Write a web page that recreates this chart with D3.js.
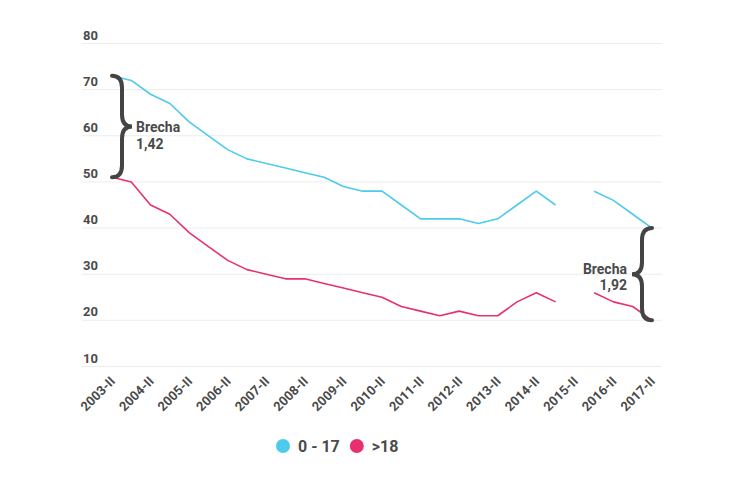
<!DOCTYPE html>
<html>
<head>
<meta charset="utf-8">
<script src="https://cdn.jsdelivr.net/npm/d3@7"></script>
<style>
  html, body { margin: 0; padding: 0; background: #fff; }
  svg { display: block; font-family: Roboto, "Noto Sans", sans-serif; }
</style>
</head>
<body>
<svg id="chart" width="750" height="481"></svg>
<script>
// ---- Data ----
const periods = ["2003-II","2004-I","2004-II","2005-I","2005-II","2006-I","2006-II","2007-I","2007-II",
  "2008-I","2008-II","2009-I","2009-II","2010-I","2010-II","2011-I","2011-II","2012-I","2012-II",
  "2013-I","2013-II","2014-I","2014-II","2015-I","2015-II","2016-I","2016-II","2017-I","2017-II"];
const kids = [73,72,69,67,63,60,57,55,54,53,52,51,49,48,48,45,42,42,42,41,42,45,48,45,null,48,46,43,40];
const adults = [51,50,45,43,39,36,33,31,30,29,29,28,27,26,25,23,22,21,22,21,21,24,26,24,null,26,24,23,20];
const tickLabels = ["2003-II","2004-II","2005-II","2006-II","2007-II","2008-II","2009-II","2010-II",
  "2011-II","2012-II","2013-II","2014-II","2015-II","2016-II","2017-II"];
const yTicks = [10,20,30,40,50,60,70,80];
const seriesNames = ["0 - 17", ">18"];
const seriesColors = ["#4ccbec", "#e8306f"];
const gapLeft = { label: "Brecha", value: "1,42" };
const gapRight = { label: "Brecha", value: "1,92" };

// ---- Scales ----
const svg = d3.select("#chart");
const x = d3.scaleLinear().domain([0, periods.length - 1]).range([112, 652]);
const y = d3.scaleLinear().domain([10, 80]).range([366.5, 43.5]);
const gridX0 = 82, gridX1 = 662;
const textColor = "#4a4a4a";

// gridlines + y labels
const yg = svg.append("g");
yTicks.forEach(t => {
  yg.append("line").attr("x1", gridX0).attr("x2", gridX1)
    .attr("y1", y(t)).attr("y2", y(t))
    .attr("stroke", "#ececec").attr("stroke-width", 1);
  yg.append("text").attr("x", gridX0 + 1).attr("y", y(t) - 4)
    .attr("fill", textColor).attr("font-size", 13).attr("font-weight", 700)
    .text(t);
});

// x axis labels
const tickIdx = tickLabels.map(l => periods.indexOf(l));
const xAxis = d3.axisBottom(x).tickValues(tickIdx)
  .tickFormat((d, i) => tickLabels[i]).tickSize(0).tickPadding(0);
const xg = svg.append("g").call(xAxis);
xg.select(".domain").remove();
xg.selectAll(".tick").each(function(d) {
  const g = d3.select(this);
  g.attr("transform", `translate(${x(d) + 4},382)`);
  g.select("text")
    .attr("x", 0).attr("y", 0).attr("dy", 0)
    .attr("text-anchor", "end")
    .attr("transform", "rotate(-45)")
    .attr("fill", textColor)
    .attr("font-size", 13)
    .attr("font-weight", 700)
    .attr("font-family", "Roboto, sans-serif");
});

// lines
const line = d3.line().defined(d => d != null).x((d, i) => x(i)).y(d => y(d));
[kids, adults].forEach((s, k) => {
  svg.append("path").datum(s)
    .attr("d", line)
    .attr("fill", "none")
    .attr("stroke", seriesColors[k])
    .attr("stroke-width", 1.6)
    .attr("stroke-linejoin", "round");
});

// braces
function brace(x0, yTop, yBot, w) {
  const r = w / 2, h = yBot - yTop, m = yTop + h / 2, c = Math.min(12, h / 7);
  return `M${x0},${yTop} Q${x0 + r},${yTop} ${x0 + r},${yTop + c} L${x0 + r},${m - c} ` +
    `Q${x0 + r},${m} ${x0 + w},${m} Q${x0 + r},${m} ${x0 + r},${m + c} ` +
    `L${x0 + r},${yBot - c} Q${x0 + r},${yBot} ${x0},${yBot}`;
}
const i0 = 0, iN = periods.length - 1;
svg.append("path").attr("d", brace(x(i0), y(kids[i0]), y(adults[i0]), 20))
  .attr("fill", "none").attr("stroke", "#444").attr("stroke-width", 4).attr("stroke-linecap", "round");
svg.append("path").attr("d", brace(x(iN), y(kids[iN]), y(adults[iN]), -20))
  .attr("fill", "none").attr("stroke", "#444").attr("stroke-width", 4).attr("stroke-linecap", "round");

const midL = (y(kids[i0]) + y(adults[i0])) / 2;
const tl = svg.append("text").attr("fill", textColor).attr("font-size", 14).attr("font-weight", 700);
tl.append("tspan").attr("x", x(i0) + 24).attr("y", midL + 5).text(gapLeft.label);
tl.append("tspan").attr("x", x(i0) + 24).attr("y", midL + 22).text(gapLeft.value);

const midR = (y(kids[iN]) + y(adults[iN])) / 2;
const tr = svg.append("text").attr("fill", textColor).attr("font-size", 14).attr("font-weight", 700)
  .attr("text-anchor", "end");
tr.append("tspan").attr("x", x(iN) - 25).attr("y", midR).text(gapRight.label);
tr.append("tspan").attr("x", x(iN) - 25).attr("y", midR + 16).text(gapRight.value);

// legend
const legend = svg.append("g").attr("transform", "translate(283,446)");
let lx = 0;
seriesNames.forEach((n, k) => {
  const g = legend.append("g").attr("transform", `translate(${lx},0)`);
  g.append("circle").attr("r", 7).attr("fill", seriesColors[k]);
  const t = g.append("text").attr("x", 15).attr("y", 5.5)
    .attr("fill", textColor).attr("font-size", 16).attr("font-weight", 700).text(n);
  lx += 15 + t.node().getComputedTextLength() + 17;
});
</script>
</body>
</html>
